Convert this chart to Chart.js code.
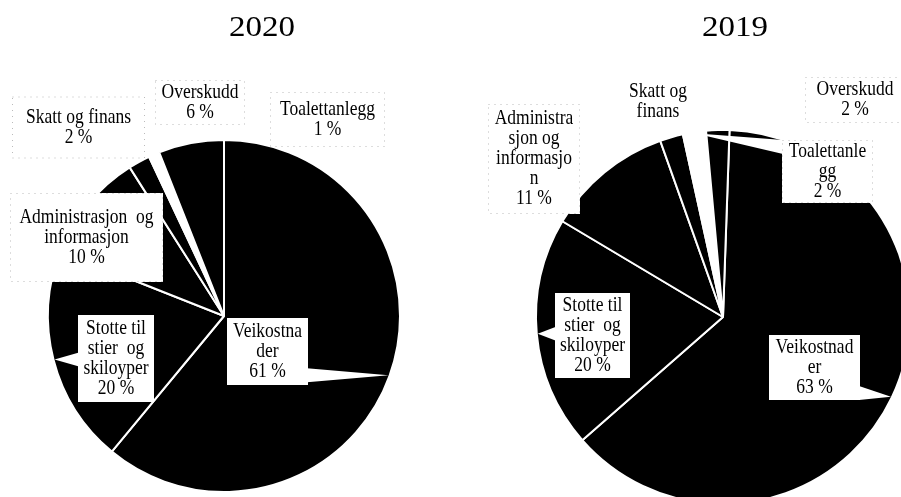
<!DOCTYPE html>
<html>
<head>
<meta charset="utf-8">
<script src="https://cdn.jsdelivr.net/npm/chart.js@4/dist/chart.umd.min.js"></script>
<style>
html, body { margin: 0; padding: 0; background: #fff; overflow: hidden; width: 901px; height: 497px; }
.holder { position: absolute; top: 0; }
</style>
</head>
<body>
<div class="holder" style="left:0"><canvas id="pie2020" width="450" height="497"></canvas></div>
<div class="holder" style="left:450px"><canvas id="pie2019" width="480" height="520"></canvas></div>
<script>
(function() {
const categories = ['Veikostnader', 'Stotte til stier og skiloyper', 'Administrasjon og informasjon',
                    'Skatt og finans', 'Toalettanlegg', 'Overskudd'];
const values2020 = [61, 20, 10, 2, 1, 6];
const values2019 = [63, 20, 11, 2, 2, 2];

// label text as it is wrapped in the picture
const lines2020 = [['Veikostna', 'der'], ['Stotte til', 'stier  og', 'skiloyper'], ['Administrasjon  og', 'informasjon'],
                   ['Skatt og finans'], ['Toalettanlegg'], ['Overskudd']];
const lines2019 = [['Veikostnad', 'er'], ['Stotte til', 'stier  og', 'skiloyper'], ['Administra', 'sjon og', 'informasjo', 'n'],
                   ['Skatt og', 'finans'], ['Toalettanle', 'gg'], ['Overskudd']];
const showPct2020 = [true, true, true, true, true, true];
const showPct2019 = [true, true, true, false, true, true];

const sliceColors = ['#000', '#000', '#000', '#000', '#fff', '#000'];

// label box placement, relative to the pie centre
const layout2020 = [
    {dx: 43.5, dy: 35.5, w: 81, h: 67, callout: true},
    {dx: -108, dy: 42.5, w: 76, h: 87, callout: true},
    {dx: -137.5, dy: -78.5, w: 153, h: 89, dotted: true},
    {dx: -145.5, dy: -188.5, w: 133, h: 62, dotted: true},
    {dx: 103.5, dy: -196.5, w: 115, h: 55, dotted: true},
    {dx: -24, dy: -213.5, w: 90, h: 45, dotted: true}
];
const layout2019 = [
    {dx: 91.5, dy: 50.5, w: 91, h: 65, callout: true},
    {dx: -130.5, dy: 18.5, w: 75, h: 85, callout: true},
    {dx: -189, dy: -158, w: 92, h: 110, dotted: true},
    {dx: -65, dy: -215.5, w: 80, h: 47},
    {dx: 104.5, dy: -145.5, w: 91, h: 63, dotted: true, callout: true},
    {dx: 132, dy: -217, w: 100, h: 46, dotted: true}
];

function stretchedText(ctx, t, x, y, sy) {
    ctx.save();
    ctx.translate(x, y);
    ctx.scale(1, sy);
    ctx.fillText(t, 0, 0);
    ctx.restore();
}

const labelBoxes = {
    id: 'labelBoxes',
    afterDatasetsDraw(chart, args, opts) {
        const ctx = chart.ctx;
        const arcs = chart.getDatasetMeta(0).data;
        const values = chart.data.datasets[0].data;
        ctx.save();
        ctx.font = opts.font;
        ctx.textAlign = 'center';
        ctx.textBaseline = 'middle';
        arcs.forEach((arc, i) => {
            const p = arc.getProps(['x', 'y', 'startAngle', 'endAngle', 'outerRadius'], true);
            const lay = opts.layout[i];
            const text = opts.lines[i].slice();
            if (opts.showPct[i]) text.push(values[i] + ' %');
            const cx = p.x + lay.dx, cy = p.y + lay.dy;
            const x0 = cx - lay.w / 2, y0 = cy - lay.h / 2, x1 = x0 + lay.w, y1 = y0 + lay.h;

            ctx.fillStyle = '#fff';
            if (lay.callout) {
                const mid = (p.startAngle + p.endAngle) / 2;
                const tx = p.x + Math.cos(mid) * (p.outerRadius - 1);
                const ty = p.y + Math.sin(mid) * (p.outerRadius - 1);
                const half = 7;
                ctx.beginPath();
                ctx.moveTo(tx, ty);
                if (tx > x1 || tx < x0) {
                    const ex = tx > x1 ? x1 - 1 : x0 + 1;
                    const my = Math.min(Math.max(ty, y0 + half), y1 - half);
                    ctx.lineTo(ex, my - half);
                    ctx.lineTo(ex, my + half);
                } else {
                    const ey = ty > y1 ? y1 - 1 : y0 + 1;
                    const mx = Math.min(Math.max(tx, x0 + half), x1 - half);
                    ctx.lineTo(mx - half, ey);
                    ctx.lineTo(mx + half, ey);
                }
                ctx.closePath();
                ctx.fill();
            }
            ctx.fillRect(x0, y0, lay.w, lay.h);
            if (lay.dotted) {
                ctx.strokeStyle = '#bbb';
                ctx.lineWidth = 1;
                ctx.setLineDash([1, 5]);
                ctx.strokeRect(x0 + 0.5, y0 + 0.5, lay.w - 1, lay.h - 1);
                ctx.setLineDash([]);
            }
            ctx.fillStyle = '#000';
            const startY = cy - (text.length - 1) * opts.lineHeight / 2;
            text.forEach((t, k) => stretchedText(ctx, t, cx, startY + k * opts.lineHeight, 1.15));
        });
        ctx.font = opts.titleFont;
        stretchedText(ctx, opts.title, opts.titleX, opts.titleY, 0.88);
        ctx.restore();
    }
};

function makePie(id, values, lines, showPct, layout, padding, title, titleX) {
    return new Chart(document.getElementById(id), {
        type: 'pie',
        data: {
            labels: categories,
            datasets: [{
                data: values,
                backgroundColor: sliceColors,
                borderColor: '#fff',
                borderWidth: 2,
                hoverBorderWidth: 2,
                offset: 0,
                hoverOffset: 0
            }]
        },
        options: {
            responsive: false,
            animation: false,
            events: [],
            rotation: id === 'pie2019' ? 2 : 0,
            layout: { padding: padding },
            plugins: {
                legend: { display: false },
                tooltip: { enabled: false },
                labelBoxes: {
                    lines: lines,
                    showPct: showPct,
                    layout: layout,
                    font: '17.5px "Liberation Serif", "Times New Roman", serif',
                    lineHeight: 20,
                    title: title,
                    titleX: titleX,
                    titleY: 28,
                    titleFont: '33px "Liberation Serif", "Times New Roman", serif'
                }
            }
        },
        plugins: [labelBoxes]
    });
}

makePie('pie2020', values2020, lines2020, showPct2020, layout2020,
        {left: 47, right: 49, top: 139, bottom: 4}, '2020', 262);
makePie('pie2019', values2019, lines2019, showPct2019, layout2019,
        {left: 85, right: 19, top: 129, bottom: 15}, '2019', 285);
})();
</script>
</body>
</html>
